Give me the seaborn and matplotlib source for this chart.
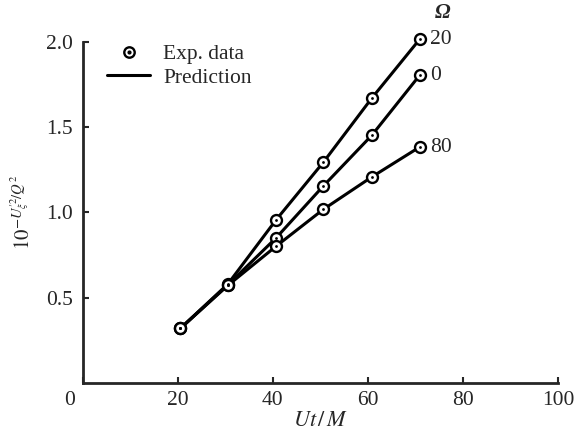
import matplotlib
matplotlib.use("Agg")
import matplotlib.pyplot as plt
import matplotlib.transforms as mtransforms
from matplotlib.lines import Line2D
from matplotlib.legend_handler import HandlerTuple
import seaborn as sns
import pandas as pd

# ---- data ----
ut_m = [20.5, 30.5, 40.7, 50.6, 60.8, 70.9]
omega_labels = ["20", "0", "80"]
y_omega20 = [0.32, 0.58, 0.958, 1.294, 1.670, 2.016]
y_omega0 = [0.32, 0.575, 0.852, 1.155, 1.452, 1.805]
y_omega80 = [0.32, 0.572, 0.803, 1.018, 1.208, 1.384]
x_ticks = [0, 20, 40, 60, 80, 100]
y_ticks = [0.5, 1.0, 1.5, 2.0]

series = {"20": y_omega20, "0": y_omega0, "80": y_omega80}
df = pd.DataFrame(
    [(x, y, k) for k, ys in series.items() for x, y in zip(ut_m, ys)],
    columns=["Ut/M", "val", "Omega"],
)

sns.set_style("ticks")
plt.rcParams["font.family"] = ["Liberation Serif", "DejaVu Serif"]
plt.rcParams["mathtext.fontset"] = "stix"

fig = plt.figure(figsize=(5.86, 4.36), dpi=100)
ax = fig.add_axes([0.1416, 0.1216, 0.8104, 0.7821])

pal = {k: "black" for k in omega_labels}
sns.lineplot(data=df, x="Ut/M", y="val", hue="Omega", palette=pal, lw=2.2,
             legend=False, ax=ax, sort=False, zorder=2)
sns.scatterplot(data=df, x="Ut/M", y="val", hue="Omega", palette=pal,
                marker="o", s=62, linewidth=1.7, legend=False, ax=ax, zorder=3)
ax.collections[-1].set_facecolor("white")
ax.collections[-1].set_edgecolor("black")
sns.scatterplot(data=df, x="Ut/M", y="val", color="black", marker="o", s=4,
                linewidth=0, legend=False, ax=ax, zorder=4)
for art in list(ax.lines) + list(ax.collections):
    art.set_clip_on(False)

ax.set_xlim(0, 100)
ax.set_ylim(0, 2.0)
ax.set_xticks(x_ticks)
ax.set_yticks(y_ticks)
ax.set_xticklabels([str(t) for t in x_ticks])
ax.set_yticklabels([f"{t:.1f}" for t in y_ticks])
for s in ["top", "right"]:
    ax.spines[s].set_visible(False)
for s in ["left", "bottom"]:
    ax.spines[s].set_linewidth(2.0)
ax.tick_params(direction="in", length=4, width=1.5, labelsize=15.5, pad=6)
ax.tick_params(axis="y", pad=7)

# shift the "0" label left like the reference
lbl0 = ax.get_xticklabels()[0]
lbl0.set_transform(lbl0.get_transform() + mtransforms.ScaledTranslation(-13 / 100, 0, fig.dpi_scale_trans))

ax.set_xlabel(r"$Ut\,/\,M$", fontsize=16, labelpad=1)
ax.set_ylabel(r"$10^{-U_{\xi}^{\prime 2}/Q^2}$", fontsize=15, labelpad=8)

# series labels
last = {k: v[-1] for k, v in series.items()}
for k in omega_labels:
    ax.text(ut_m[-1] + 2.2, last[k], k, fontsize=15.5, ha="left", va="center", clip_on=False)
ax.text(ut_m[-1] + 4.8, 2.17, "Ω", fontsize=15, fontstyle="italic", fontweight="bold",
        ha="center", va="center", clip_on=False)

# legend
h_circ = Line2D([], [], ls="none", marker="o", ms=7.5, mfc="white", mec="black", mew=1.7)
h_dot = Line2D([], [], ls="none", marker="o", ms=2, mfc="black", mec="black")
h_line = Line2D([], [], color="black", lw=2.2)
ax.legend([(h_circ, h_dot), h_line], ["Exp. data", "Prediction"],
          handler_map={tuple: HandlerTuple(ndivide=1, pad=0)},
          loc="upper left", bbox_to_anchor=(0.01, 1.05), frameon=False,
          fontsize=15.5, handlelength=2.0, handletextpad=0.6, labelspacing=0.15)

fig.savefig("out.png", dpi=100)
